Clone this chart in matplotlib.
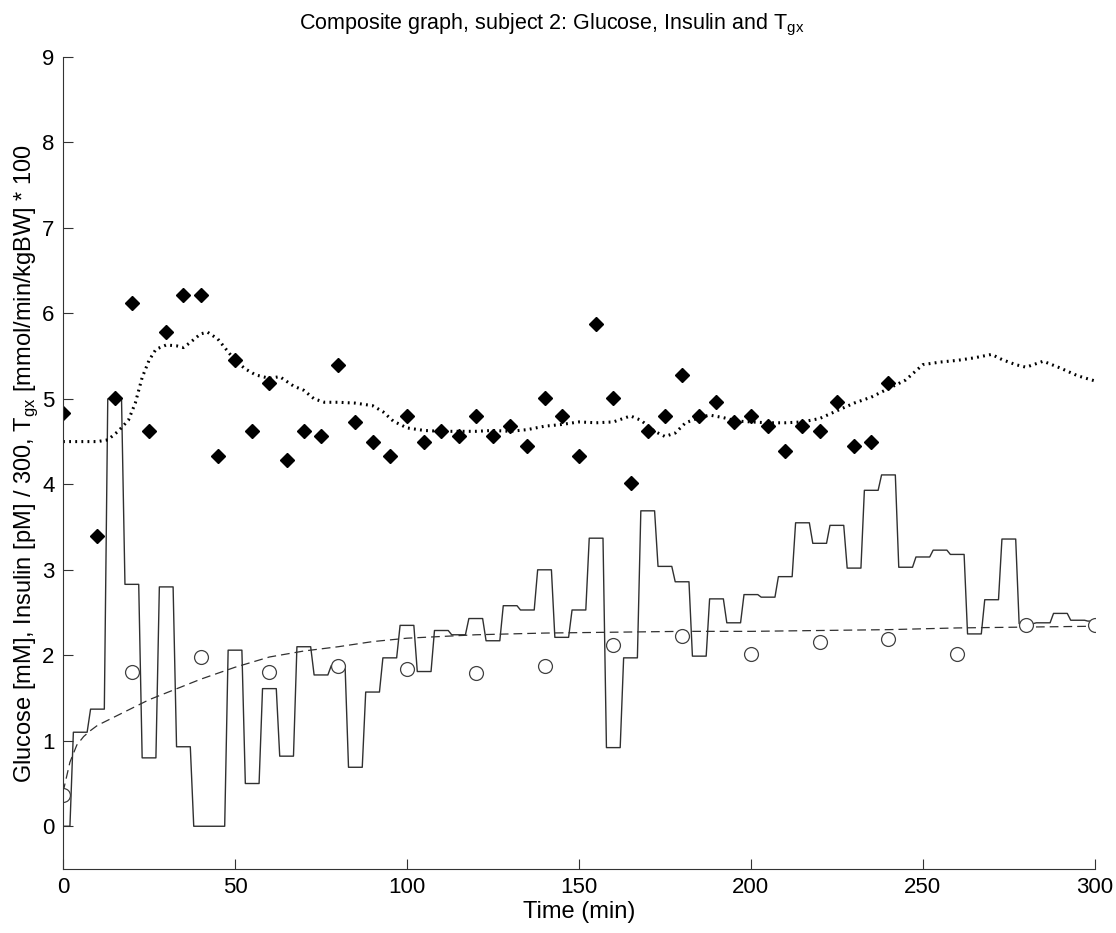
import numpy as np
import matplotlib.pyplot as plt

plt.rcParams['font.family'] = ['Liberation Sans', 'DejaVu Sans']

# insulin [pM]/300, one value per 5 min (0..300)
ins_t = np.arange(0, 301, 5)
ins_v = [0.0, 1.10, 1.37, 5.00, 2.83, 0.80, 2.80, 0.93, 0.0, 0.0,
         2.06, 0.50, 1.61, 0.82, 2.10, 1.77, 1.88, 0.69, 1.57, 1.97,
         2.35, 1.81, 2.29, 2.24, 2.43, 2.17, 2.58, 2.53, 3.00, 2.21,
         2.53, 3.37, 0.92, 1.97, 3.69, 3.04, 2.86, 1.99, 2.66, 2.38,
         2.71, 2.68, 2.92, 3.55, 3.31, 3.52, 3.02, 3.93, 4.11, 3.03,
         3.15, 3.23, 3.18, 2.25, 2.65, 3.36, 2.37, 2.38, 2.49, 2.41,
         2.40]

# Tgx measured (diamonds)
tgx_t = [0, 10, 15, 20, 25, 30, 35, 40, 45, 50, 55, 60, 65, 70, 75, 80,
         85, 90, 95, 100, 105, 110, 115, 120, 125, 130, 135, 140, 145, 150,
         155, 160, 165, 170, 175, 180, 185, 190, 195, 200, 205, 210, 215,
         220, 225, 230, 235, 240]
tgx_v = [4.84, 3.40, 5.01, 6.12, 4.62, 5.78, 6.22, 6.22, 4.33, 5.45, 4.62,
         5.18, 4.28, 4.62, 4.57, 5.40, 4.73, 4.50, 4.33, 4.80, 4.50, 4.62,
         4.57, 4.80, 4.57, 4.68, 4.45, 5.01, 4.80, 4.33, 5.88, 5.01, 4.01,
         4.62, 4.80, 5.28, 4.80, 4.96, 4.73, 4.80, 4.68, 4.39, 4.68, 4.62,
         4.96, 4.45, 4.50, 5.18]

# Tgx smoothed (dotted)
sm_t = [0, 5, 10, 13, 16, 19, 21, 23, 25, 27, 30, 33, 35, 37, 40, 42, 45,
        48, 50, 53, 56, 60, 63, 67, 70, 73, 76, 80, 85, 90, 93, 96, 100,
        105, 110, 115, 120, 125, 130, 135, 140, 145, 150, 155, 160, 165,
        168, 172, 175, 178, 181, 185, 188, 192, 196, 200, 205, 210, 215,
        220, 225, 230, 235, 240, 245, 250, 255, 260, 265, 270, 273, 277,
        280, 285, 290, 295, 300]
sm_v = [4.50, 4.50, 4.50, 4.52, 4.62, 4.75, 4.95, 5.25, 5.45, 5.58, 5.63,
        5.62, 5.60, 5.66, 5.76, 5.78, 5.70, 5.55, 5.45, 5.35, 5.28, 5.24,
        5.26, 5.15, 5.10, 5.00, 4.96, 4.96, 4.95, 4.92, 4.85, 4.74, 4.66,
        4.63, 4.62, 4.62, 4.62, 4.63, 4.62, 4.64, 4.68, 4.70, 4.73, 4.72,
        4.73, 4.80, 4.75, 4.62, 4.56, 4.60, 4.72, 4.78, 4.81, 4.78, 4.74,
        4.73, 4.72, 4.72, 4.73, 4.77, 4.86, 4.95, 5.02, 5.12, 5.22, 5.40,
        5.43, 5.45, 5.48, 5.52, 5.46, 5.40, 5.37, 5.44, 5.36, 5.27, 5.21]

# glucose measured (circles)
glu_t = [0, 20, 40, 60, 80, 100, 120, 140, 160, 180, 200, 220, 240, 260,
         280, 300]
glu_v = [0.37, 1.80, 1.98, 1.80, 1.87, 1.84, 1.79, 1.88, 2.12, 2.22, 2.02,
         2.16, 2.19, 2.01, 2.36, 2.36]

# glucose model (dashed)
gm_t = [0, 2, 4, 6, 8, 10, 15, 20, 25, 30, 40, 50, 60, 70, 80, 90, 100,
        120, 140, 160, 180, 200, 220, 240, 260, 280, 300]
gm_v = [0.40, 0.75, 0.95, 1.05, 1.12, 1.18, 1.28, 1.38, 1.48, 1.56, 1.72,
        1.86, 1.98, 2.05, 2.10, 2.16, 2.20, 2.24, 2.26, 2.27, 2.28, 2.28,
        2.29, 2.30, 2.32, 2.33, 2.34]

# step-like insulin trace: plateau of each sample, short ramps between
step_x = np.clip(np.column_stack([ins_t - 2, ins_t + 2]).ravel(), 0, 300)
step_y = np.repeat(ins_v, 2)

fig = plt.figure(figsize=(11.16, 9.33), dpi=100)
ax = fig.add_axes([0.0565, 0.0686, 0.9245, 0.8704])

ax.plot(step_x, step_y, color='#303030', lw=1.0)
ax.plot(gm_t, gm_v, color='#303030', lw=0.9, ls=(0, (7, 4)))
ax.plot(sm_t, sm_v, color='black', lw=2.2, ls=(0, (0.6, 1.4)))
ax.plot(tgx_t, tgx_v, 'D', color='black', ms=7.5, ls='none')
ax.plot(glu_t, glu_v, 'o', mfc='white', mec='#404040', mew=0.9, ms=10,
        ls='none')

ax.set_xlim(0, 300)
ax.set_ylim(-0.5, 9)
ax.set_xticks(range(0, 301, 50))
ax.set_yticks(range(0, 10))
ax.spines['top'].set_visible(False)
ax.spines['right'].set_visible(False)
for s in ('left', 'bottom'):
    ax.spines[s].set_color('#333333')
ax.tick_params(direction='in', labelsize=16, length=7.5, pad=6,
               color='#333333')

ax.set_xlabel('Time (min)', fontsize=17, labelpad=2)
ax.set_ylabel(r'Glucose [mM], Insulin [pM] / 300, T$_\mathregular{gx}$ '
              r'[mmol/min/kgBW] * 100', fontsize=17)
ax.yaxis.set_label_coords(-0.022, 0.5)
fig.text(0.494, 0.968,
         r'Composite graph, subject 2: Glucose, Insulin and T$_\mathregular{gx}$',
         fontsize=15.5, ha='center', va='baseline')

fig.savefig('out.png', dpi=100)
